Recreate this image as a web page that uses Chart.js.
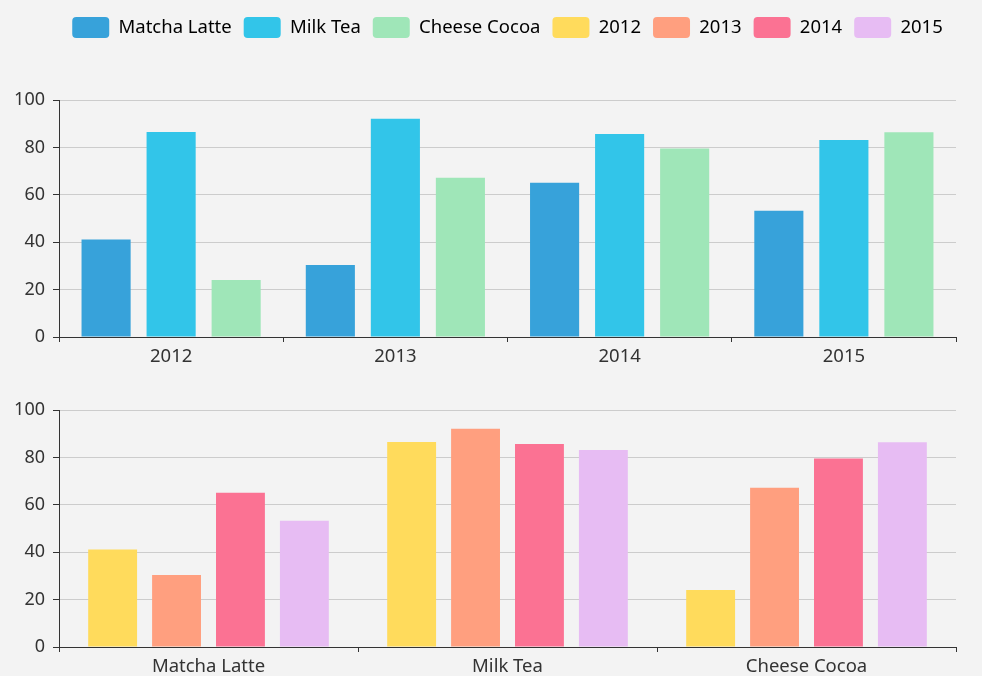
<!DOCTYPE html>
<html>
<head>
<meta charset="utf-8">
<script src="https://cdn.jsdelivr.net/npm/chart.js@4.4.0/dist/chart.umd.min.js"></script>
<style>
    html, body { margin: 0; padding: 0; background: #f3f3f3; }
    #wrap { position: relative; width: 982px; height: 676px; }
    #top { position: absolute; left: 0; top: 0; }
    #bottom { position: absolute; left: 0; top: 372px; }
</style>
</head>
<body>
<div id="wrap">
    <canvas id="top" width="982" height="372"></canvas>
    <canvas id="bottom" width="982" height="304"></canvas>
</div>
<script>
var years = ['2012', '2013', '2014', '2015'];
var products = ['Matcha Latte', 'Milk Tea', 'Cheese Cocoa'];
var matchaLatte = [41.1, 30.4, 65.1, 53.3];
var milkTea = [86.5, 92.1, 85.7, 83.1];
var cheeseCocoa = [24.1, 67.2, 79.5, 86.4];
var yTicks = [0, 20, 40, 60, 80, 100];

var productColors = ['#37a2da', '#32c5e9', '#9fe6b8'];
var yearColors = ['#ffdb5c', '#ff9f7f', '#fb7293', '#e7bcf3'];

var fontFam = '"Noto Sans", "Open Sans", sans-serif';
var txt = '#333';

window.onload = function () {
    init();
};

function init() {
    Chart.defaults.font.family = fontFam;
    Chart.defaults.color = txt;
    Chart.defaults.animation = false;
    carregarTopo();
    carregarBaixo();
}

// mesmo estilo de eixo nos dois graficos
function eixos(xHeight) {
    return {
        x: {
            offset: true,
            grid: { display: true, offset: true, drawOnChartArea: false, drawTicks: true, tickLength: 5, color: '#333' },
            border: { display: true, color: '#333', width: 1 },
            ticks: { padding: 4, font: { size: 18.5 }, color: txt },
            afterFit: function (s) { s.height = xHeight; }
        },
        y: {
            min: 0, max: 100,
            afterBuildTicks: function (s) { s.ticks = yTicks.map(function (v) { return { value: v }; }); },
            grid: { color: '#cccccc', tickColor: '#333', tickLength: 6, drawTicks: true },
            border: { display: true, color: '#333', width: 1 },
            ticks: { padding: 8, font: { size: 18 }, color: txt },
            afterFit: function (s) { s.width = 59; }
        }
    };
}

function carregarTopo() {
    var series = [matchaLatte, milkTea, cheeseCocoa];
    var sets = [];
    for (var i = 0; i < products.length; i++) {
        sets.push({
            label: products[i],
            data: series[i],
            backgroundColor: productColors[i],
            categoryPercentage: 0.87,
            barPercentage: 0.755
        });
    }
    new Chart(document.getElementById('top'), {
        type: 'bar',
        data: { labels: years, datasets: sets },
        options: {
            responsive: false,
            layout: { padding: { top: 5, left: 0, right: 26, bottom: 0 } },
            scales: eixos(35),
            plugins: {
                tooltip: { enabled: false },
                legend: {
                    position: 'top',
                    fullSize: false, // centraliza sobre a area do grafico
                    onClick: null,
                    labels: {
                        boxWidth: 37, boxHeight: 21, padding: 12,
                        font: { size: 18.5 }, color: txt,
                        generateLabels: function () {
                            var itens = [];
                            products.forEach(function (p, i) {
                                itens.push({ text: p, fillStyle: productColors[i], strokeStyle: productColors[i], lineWidth: 0, borderRadius: 4, hidden: false });
                            });
                            years.forEach(function (y, i) {
                                itens.push({ text: y, fillStyle: yearColors[i], strokeStyle: yearColors[i], lineWidth: 0, borderRadius: 4, hidden: false });
                            });
                            return itens;
                        }
                    }
                },
                // espaco entre legenda e grafico
                title: { display: true, text: '', weight: 500, padding: { top: 42, bottom: 0 }, font: { size: 10, lineHeight: 1 } }
            }
        }
    });
}

function carregarBaixo() {
    var sets = [];
    for (var i = 0; i < years.length; i++) {
        sets.push({
            label: years[i],
            data: [matchaLatte[i], milkTea[i], cheeseCocoa[i]],
            backgroundColor: yearColors[i],
            categoryPercentage: 0.855,
            barPercentage: 0.765
        });
    }
    new Chart(document.getElementById('bottom'), {
        type: 'bar',
        data: { labels: products, datasets: sets },
        options: {
            responsive: false,
            layout: { padding: { top: 38, left: 0, right: 26, bottom: 0 } },
            scales: eixos(29),
            plugins: {
                tooltip: { enabled: false },
                legend: { display: false }
            }
        }
    });
}
</script>
</body>
</html>
